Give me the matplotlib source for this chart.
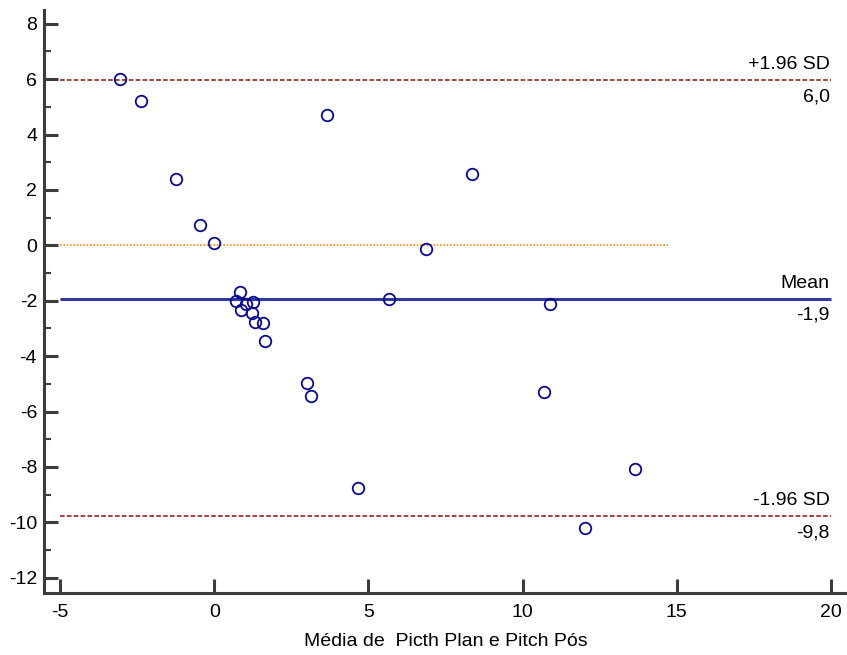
import matplotlib
matplotlib.use('Agg')
import matplotlib.pyplot as plt
from matplotlib.ticker import MultipleLocator

plt.rcParams['font.family'] = ['Liberation Sans', 'DejaVu Sans']
plt.rcParams['axes.unicode_minus'] = False

# means (x) and differences (y)
media = [-3.05, -2.37, -1.24, -0.46, 0.0, 0.84, 0.71, 0.87, 1.03, 1.25,
         1.23, 1.33, 1.58, 1.65, 3.0, 3.14, 3.66, 4.66, 5.67, 6.87,
         8.36, 10.69, 10.89, 12.02, 13.64]
diferenca = [6.01, 5.22, 2.40, 0.74, 0.09, -1.68, -2.0, -2.32, -2.11, -2.04,
             -2.43, -2.76, -2.79, -3.44, -4.96, -5.43, 4.71, -8.75, -1.93, -0.12,
             2.58, -5.29, -2.11, -10.19, -8.07]

mean_diff = -1.92
upper_loa = 5.97
lower_loa = -9.78
zero_line_end = 14.7
line_start, line_end = -5, 20

fs = 14

fig = plt.figure(figsize=(8.47, 6.55), dpi=100)
ax = fig.add_axes([0.052, 0.095, 0.948, 0.89])

ax.hlines(0, line_start, zero_line_end, colors='#ff8c1a', linestyles=(0, (1, 1)), linewidth=1.2)
ax.hlines(mean_diff, line_start, line_end, colors='#2e3a9e', linewidth=2.2)
ax.hlines([upper_loa, lower_loa], line_start, line_end, colors='#8b1010',
          linestyles=(0, (3, 1.5)), linewidth=1.1)

ax.plot(media, diferenca, 'o', mfc='none', mec='#0a0a8c', mew=1.3, ms=8.3)

# labels on the reference lines
for yv, top, bottom in [(upper_loa, '+1.96 SD', '6,0'), (mean_diff, 'Mean', '-1,9'),
                        (lower_loa, '-1.96 SD', '-9,8')]:
    ax.annotate(top, (line_end, yv), xytext=(-1, 5), textcoords='offset points',
                ha='right', va='bottom', fontsize=fs)
    ax.annotate(bottom, (line_end, yv), xytext=(-1, -6), textcoords='offset points',
                ha='right', va='top', fontsize=fs)

ax.set_xlim(-5.52, 20.52)
ax.set_ylim(-12.54, 8.5)
ax.xaxis.set_major_locator(MultipleLocator(5))
ax.yaxis.set_major_locator(MultipleLocator(2))
ax.yaxis.set_minor_locator(MultipleLocator(1))

for s in ['top', 'right']:
    ax.spines[s].set_visible(False)
for s in ['left', 'bottom']:
    ax.spines[s].set_color('#3c3c3c')
    ax.spines[s].set_linewidth(2.2)

ax.tick_params(axis='both', which='major', direction='in', length=10, width=2.2,
               color='#3c3c3c', labelsize=fs)
ax.tick_params(axis='y', which='minor', direction='in', length=5, width=1.5, color='#3c3c3c')
ax.tick_params(axis='y', which='major', pad=5)
ax.tick_params(axis='x', which='major', pad=8)

ax.set_xlabel('Média de  Picth Plan e Pitch Pós', fontsize=fs, labelpad=9)

fig.savefig('out.png', dpi=100)
